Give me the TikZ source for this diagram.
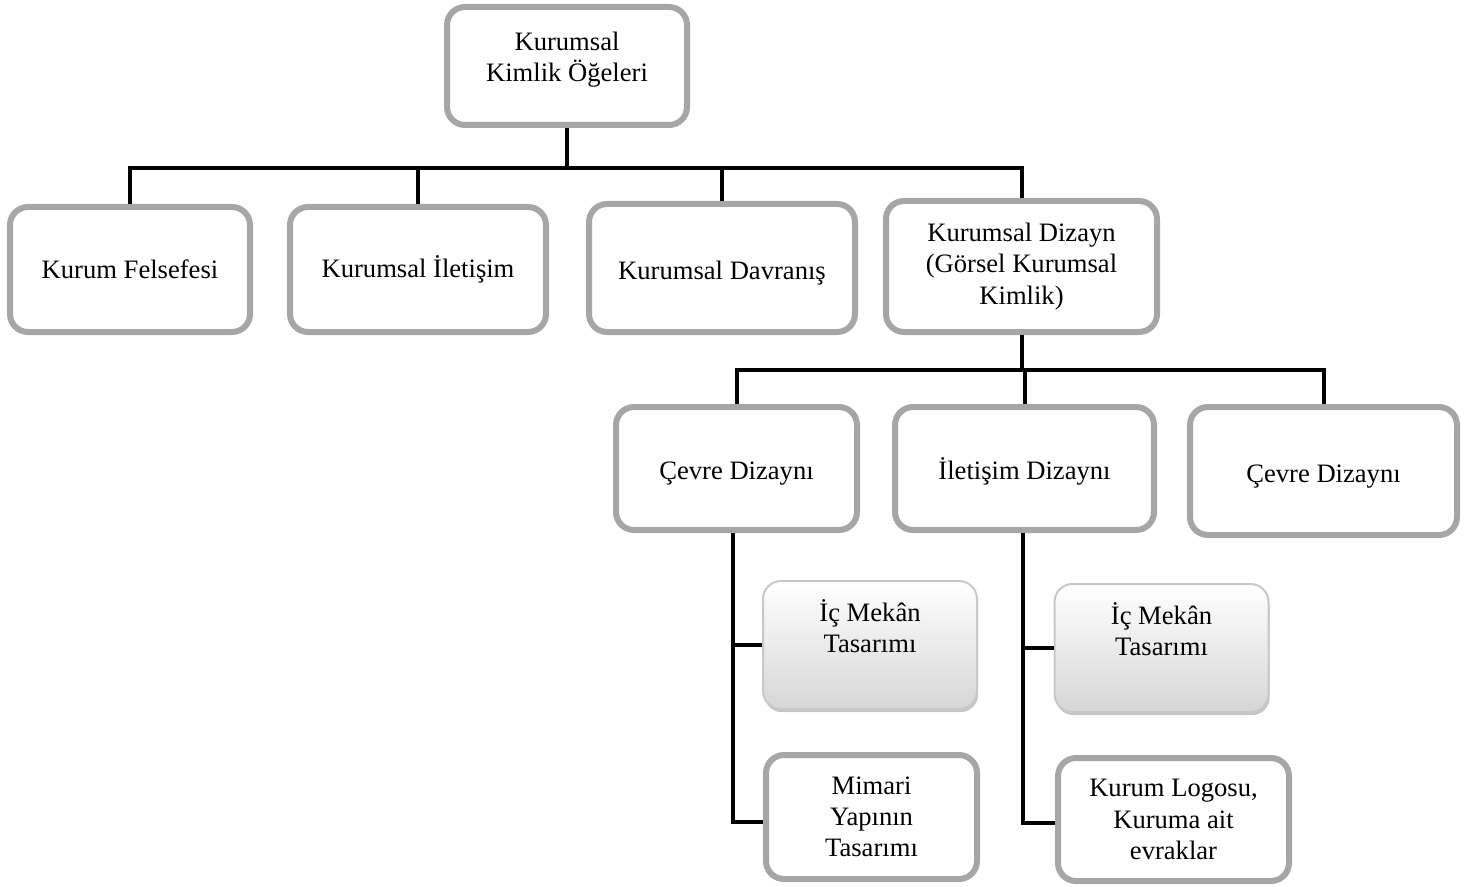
\documentclass[tikz,border=0pt]{standalone}
\usepackage{fontspec}
\setmainfont{Liberation Serif}
\usetikzlibrary{shadows, positioning, calc, shapes}
\definecolor{kgri}{HTML}{A6A6A6}
\definecolor{acikgri}{HTML}{C8C8C8}

\begin{document}
\begin{tikzpicture}[x=0.5pt,y=-0.5pt]
  \tikzstyle{kutu} = [rectangle, rounded corners=9pt, draw=kgri, line width=3pt, fill=white, align=center, inner sep=2pt, font=\fontsize{13.3}{15.6}\selectfont]
  \tikzstyle{gkutu} = [rectangle, rounded corners=9pt, draw=acikgri, line width=1pt, top color=white, bottom color=black!16, align=center, inner sep=2pt, font=\fontsize{13.3}{15.6}\selectfont, drop shadow={shadow xshift=0.6pt, shadow yshift=-1.6pt, fill=black!45, opacity=0.5}]
  \tikzstyle{asagi} = [text height=14pt, text depth=3pt]
  \tikzstyle{bag} = [line width=2pt, black]
  \useasboundingbox (0,0) rectangle (1475,887);
  % ust seviye
  \node[kutu, minimum width=120pt, minimum height=59pt, text depth=9pt] at (567,66) (K) {Kurumsal\\Kimlik Öğeleri};
  \node[kutu, minimum width=120pt, minimum height=62.5pt] at (130,269.5) (KF) {Kurum Felsefesi};
  \node[kutu, minimum width=128pt, minimum height=62.5pt] at (418,269.5) (KI) {Kurumsal İletişim};
  \node[kutu, asagi, minimum width=133pt, minimum height=64pt] at (722,268) (KD) {Kurumsal Davranış};
  \node[kutu, minimum width=135.5pt, minimum height=65.5pt] at (1021.5,266.5) (KDZ) {Kurumsal Dizayn\\(Görsel Kurumsal\\Kimlik)};
  % dizayn alt seviye
  \node[kutu, asagi, minimum width=120.5pt, minimum height=61.5pt] at (736.5,468.5) (CD) {Çevre Dizaynı};
  \node[kutu, asagi, minimum width=129.5pt, minimum height=61.5pt] at (1024.5,468.5) (ID) {İletişim Dizaynı};
  \node[kutu, asagi, minimum width=133.5pt, minimum height=64pt] at (1323.5,471) (CD2) {Çevre Dizaynı};
  \node[gkutu, minimum width=107pt, minimum height=64pt, text depth=19pt] at (870,645) (IM) {İç Mekân\\Tasarımı};
  \node[kutu, minimum width=105.5pt, minimum height=62pt] at (871.5,817) (MY) {Mimari\\Yapının\\Tasarımı};
  \node[gkutu, minimum width=107pt, minimum height=64pt, text depth=19pt] at (1161.5,648) (IM2) {İç Mekân\\Tasarımı};
  \node[kutu, minimum width=115.5pt, minimum height=61.5pt] at (1173.5,819.5) (KL) {Kurum Logosu,\\Kuruma ait\\evraklar};
  % baglantilar
  \coordinate (B1) at (564,168);
  \coordinate (B2) at (1019,370);
  \draw[bag] (K.south) -- (K.south |- B1);
  \draw[bag] (KF.north) |- (B1) -| (KDZ.north);
  \draw[bag] (KI.north) -- (KI.north |- B1);
  \draw[bag] (KD.north) -- (KD.north |- B1);
  \draw[bag] (KDZ.south) -- (KDZ.south |- B2);
  \draw[bag] (CD.north) |- (B2) -| (CD2.north);
  \draw[bag] (ID.north) -- (ID.north |- B2);
  \draw[bag] ([xshift=-2pt]CD.south) |- (IM.west);
  \draw[bag] ([xshift=-2pt]CD.south) |- ([yshift=-2.5pt]MY.west);
  \draw[bag] ([xshift=-0.8pt]ID.south) |- (IM2.west);
  \draw[bag] ([xshift=-0.8pt]ID.south) |- ([yshift=-1.5pt]KL.west);
\end{tikzpicture}
\end{document}
